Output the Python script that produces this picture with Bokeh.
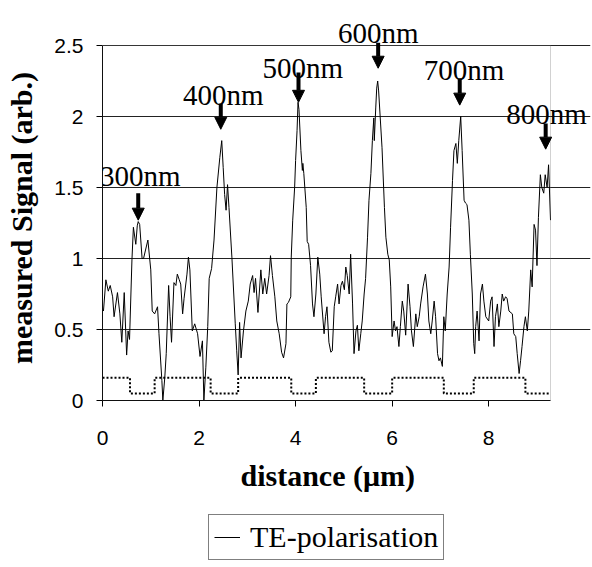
from bokeh.plotting import figure
from bokeh.layouts import column
from bokeh.models import (Range1d, FixedTicker, NumeralTickFormatter, Label,
                          Arrow, NormalHead, Legend, LegendItem, BoxAnnotation)
from bokeh.embed import file_html
from bokeh.resources import INLINE

# ---- data ----
signal_x = [0.02, 0.07, 0.12, 0.16, 0.21, 0.24, 0.31, 0.36, 0.40, 0.45, 0.50, 0.53, 0.56,
            0.61, 0.64, 0.69, 0.72, 0.74, 0.77, 0.82, 0.85, 0.94, 1.00, 1.03, 1.08, 1.14,
            1.17, 1.23, 1.25, 1.29, 1.32, 1.37, 1.40, 1.43, 1.48, 1.52, 1.55, 1.59, 1.62,
            1.66, 1.69, 1.75, 1.78, 1.81, 1.86, 1.91, 1.97, 2.02, 2.07, 2.10, 2.14, 2.18,
            2.21, 2.26, 2.31, 2.37, 2.43, 2.47, 2.50, 2.53, 2.56, 2.59, 2.62, 2.68, 2.75,
            2.78, 2.81, 2.84, 2.87, 2.92, 2.97, 3.02, 3.06, 3.11, 3.14, 3.17, 3.22, 3.28,
            3.32, 3.36, 3.40, 3.45, 3.48, 3.52, 3.57, 3.61, 3.66, 3.71, 3.75, 3.80, 3.82,
            3.85, 3.90, 3.91, 3.94, 3.98, 4.00, 4.03, 4.05, 4.07, 4.11, 4.14, 4.15, 4.17,
            4.22, 4.24, 4.27, 4.31, 4.35, 4.38, 4.42, 4.46, 4.50, 4.53, 4.59, 4.62, 4.65,
            4.69, 4.73, 4.76, 4.80, 4.83, 4.87, 4.90, 4.94, 4.97, 5.01, 5.04, 5.07, 5.11,
            5.14, 5.18, 5.21, 5.25, 5.28, 5.31, 5.35, 5.38, 5.42, 5.45, 5.49, 5.52, 5.56,
            5.59, 5.62, 5.63, 5.66, 5.68, 5.70, 5.72, 5.79, 5.84, 5.87, 5.91, 5.94, 5.97,
            6.00, 6.04, 6.07, 6.10, 6.14, 6.17, 6.21, 6.24, 6.28, 6.33, 6.37, 6.40, 6.44,
            6.49, 6.52, 6.56, 6.59, 6.64, 6.69, 6.73, 6.76, 6.80, 6.83, 6.87, 6.90, 6.94,
            6.97, 7.00, 7.04, 7.07, 7.10, 7.14, 7.18, 7.21, 7.25, 7.28, 7.32, 7.35, 7.38,
            7.42, 7.45, 7.49, 7.52, 7.55, 7.59, 7.62, 7.66, 7.69, 7.71, 7.73, 7.76, 7.80,
            7.83, 7.87, 7.90, 7.94, 8.00, 8.04, 8.07, 8.11, 8.14, 8.18, 8.21, 8.25, 8.28,
            8.31, 8.35, 8.38, 8.42, 8.49, 8.52, 8.56, 8.59, 8.63, 8.66, 8.69, 8.73, 8.76,
            8.80, 8.83, 8.87, 8.90, 8.94, 8.97, 9.00, 9.03, 9.07, 9.10, 9.14, 9.17, 9.21,
            9.24, 9.28]
signal_y = [0.63, 0.85, 0.77, 0.81, 0.73, 0.59, 0.76, 0.61, 0.41, 0.76, 0.32, 0.49, 0.43,
            0.99, 1.22, 1.10, 1.23, 1.26, 1.24, 1.00, 1.00, 1.13, 0.92, 0.63, 0.61, 0.66,
            0.47, 0.14, 0.00, 0.16, 0.33, 0.81, 0.59, 0.41, 0.83, 0.81, 0.89, 0.85, 0.82,
            0.61, 0.72, 0.89, 1.01, 0.92, 0.49, 0.54, 0.47, 0.31, 0.42, 0.00, 0.23, 0.52,
            0.86, 0.93, 1.13, 1.50, 1.71, 1.83, 1.64, 1.45, 1.34, 1.52, 1.36, 1.01, 0.54,
            0.35, 0.18, 0.55, 0.30, 0.49, 0.63, 0.70, 0.82, 0.88, 0.76, 0.86, 0.62, 0.92,
            0.75, 0.86, 0.75, 0.88, 1.02, 0.88, 0.73, 0.56, 0.47, 0.34, 0.30, 0.40, 0.68,
            0.69, 0.73, 1.01, 1.27, 1.50, 1.69, 1.90, 2.10, 2.05, 1.76, 1.62, 1.67, 1.60,
            1.36, 1.12, 1.10, 0.95, 0.68, 0.59, 0.75, 1.01, 0.89, 0.73, 0.47, 0.59, 0.66,
            0.41, 0.34, 0.35, 0.66, 0.73, 0.82, 0.68, 0.81, 0.84, 0.78, 0.94, 0.88, 0.75,
            1.03, 0.68, 0.33, 0.49, 0.53, 0.35, 0.47, 0.56, 0.75, 0.86, 1.15, 1.41, 1.60,
            1.83, 1.99, 1.83, 2.06, 2.20, 2.25, 2.18, 1.78, 1.36, 1.15, 1.03, 0.99, 0.80,
            0.45, 0.56, 0.49, 0.52, 0.38, 0.52, 0.70, 0.63, 0.46, 0.82, 0.66, 0.49, 0.38,
            0.61, 0.52, 0.59, 0.68, 0.80, 0.89, 0.75, 0.56, 0.47, 0.56, 0.70, 0.59, 0.33,
            0.28, 0.30, 0.24, 0.59, 0.49, 0.75, 0.94, 1.22, 1.55, 1.76, 1.81, 1.67, 1.83,
            2.00, 1.76, 1.41, 1.39, 1.38, 1.27, 1.03, 0.75, 0.40, 0.33, 0.52, 0.63, 0.42,
            0.75, 0.82, 0.70, 0.59, 0.56, 0.70, 0.73, 0.38, 0.59, 0.68, 0.52, 0.63, 0.75,
            0.70, 0.73, 0.72, 0.63, 0.61, 0.47, 0.45, 0.33, 0.19, 0.28, 0.38, 0.52, 0.59,
            0.49, 0.63, 0.92, 0.80, 1.24, 1.20, 0.95, 1.29, 1.59, 1.50, 1.46, 1.59, 1.50,
            1.66, 1.27]

grating_x = [0, 0.57, 1.08, 2.24, 2.81, 3.91, 4.42, 5.42, 6.00, 7.07, 7.69, 8.76, 9.28]
grating_y = [0.16, 0.05, 0.16, 0.05, 0.16, 0.05, 0.16, 0.05, 0.16, 0.05, 0.16, 0.05, 0.05]

peak_labels = ["300nm", "400nm", "500nm", "600nm", "700nm", "800nm"]
label_x = [0.78, 2.50, 4.15, 5.71, 7.49, 9.20]
label_y = [1.58, 2.15, 2.34, 2.59, 2.33, 2.02]
arrow_x = [0.74, 2.45, 4.06, 5.71, 7.40, 9.18]
arrow_top = [1.46, 2.09, 2.31, 2.52, 2.27, 1.95]
arrow_tip = [1.27, 1.91, 2.10, 2.34, 2.08, 1.77]

x_ticks = [0, 2, 4, 6, 8]
y_ticks = [0, 0.5, 1, 1.5, 2, 2.5]
X_MAX = 9.28
Y_MAX = 2.5
series_name = "TE-polarisation"

SERIF = "Liberation Serif"
SANS = "Liberation Sans"
NBSP = "\u00a0"

# plot area is 448 x 355 px; the drawing frame is extended up/right so that
# the peak labels above/right of the plot area are not clipped
PLOT_W, PLOT_H = 448, 355
FRAME_W, FRAME_H = 488, 395

p = figure(frame_width=FRAME_W, frame_height=FRAME_H, output_backend="svg",
           toolbar_location=None,
           x_range=Range1d(0, X_MAX * FRAME_W / PLOT_W),
           y_range=Range1d(0, Y_MAX * FRAME_H / PLOT_H),
           min_border_left=102, min_border_right=2, min_border_top=5,
           min_border_bottom=110)
p.background_fill_color = "white"
p.border_fill_color = "white"
p.outline_line_color = None

p.add_layout(BoxAnnotation(left=0, right=X_MAX, bottom=0, top=Y_MAX,
                           fill_color=None, line_color="#666666",
                           line_width=1))

sig = p.line(signal_x, signal_y, line_color="black", line_width=1)
p.step(grating_x, grating_y, mode="after", line_color="black", line_width=2,
       line_dash="2 2")

for ax in (p.xaxis[0], p.yaxis[0]):
    ax.axis_line_color = "black"
    ax.major_tick_line_color = "black"
    ax.major_tick_in = 0
    ax.major_tick_out = 6
    ax.minor_tick_line_color = None
    ax.major_label_text_font = SANS
    ax.major_label_text_font_size = "21px"
    ax.major_label_text_color = "black"
    ax.axis_label_text_font = SERIF
    ax.axis_label_text_font_style = "bold"
    ax.axis_label_text_font_size = "30px"
    ax.axis_label_text_color = "black"

p.xaxis.ticker = FixedTicker(ticks=x_ticks)
p.yaxis.ticker = FixedTicker(ticks=y_ticks)
p.xaxis.bounds = (0, X_MAX)
p.yaxis.bounds = (0, Y_MAX)
p.yaxis.formatter = NumeralTickFormatter(format="0.[0]")
p.xaxis.formatter = NumeralTickFormatter(format="0")
p.yaxis.major_label_standoff = 13
p.xaxis.major_label_standoff = 24
# trailing no-break spaces keep the titles centred on the plot area
p.xaxis.axis_label = "distance (\u03bcm)" + NBSP * 5
p.yaxis.axis_label = "measured Signal (arb.)" + NBSP * 4
p.xaxis.axis_label_standoff = 11
p.yaxis.axis_label_standoff = 13

p.xgrid.visible = False
p.ygrid.ticker = FixedTicker(ticks=y_ticks)
p.ygrid.bounds = (0, X_MAX)
p.ygrid.grid_line_color = "#222222"
p.ygrid.grid_line_width = 1

for t, lx, ly in zip(peak_labels, label_x, label_y):
    p.add_layout(Label(x=lx, y=ly, text=t, text_align="center",
                       text_baseline="alphabetic", text_font=SERIF,
                       text_font_size="29px", text_color="black"))
for ax_, top, tip in zip(arrow_x, arrow_top, arrow_tip):
    p.add_layout(Arrow(x_start=ax_, y_start=top, x_end=ax_, y_end=tip,
                       line_color="black", line_width=4,
                       end=NormalHead(size=12, fill_color="black",
                                      line_color="black", line_width=1)))

# legend strip below the chart (its frame is aligned with the chart's frame)
q = figure(width=592, height=57, output_backend="svg", toolbar_location=None,
           x_axis_location=None, y_axis_location=None, min_border=0,
           x_range=Range1d(0, 1), y_range=Range1d(0, 1))
q.outline_line_color = None
q.xgrid.visible = False
q.ygrid.visible = False
q.background_fill_color = "white"
q.border_fill_color = "white"
# legend key sample for the series (drawn outside the strip's visible range)
leg_r = q.line(x=[-2, -1], y=[-2, -2], line_color="black", line_width=1)
legend = Legend(items=[LegendItem(label=series_name, renderers=[leg_r])],
                location=(106, 7), orientation="horizontal",
                border_line_color="black", border_line_width=1,
                background_fill_color="white", background_fill_alpha=1,
                padding=5, glyph_width=26, label_standoff=10, margin=0,
                label_text_font=SERIF, label_text_font_size="30px",
                label_text_color="black")
q.add_layout(legend, "center")

page = column(p, q, spacing=0)
open("out.html", "w").write(file_html(page, INLINE))
